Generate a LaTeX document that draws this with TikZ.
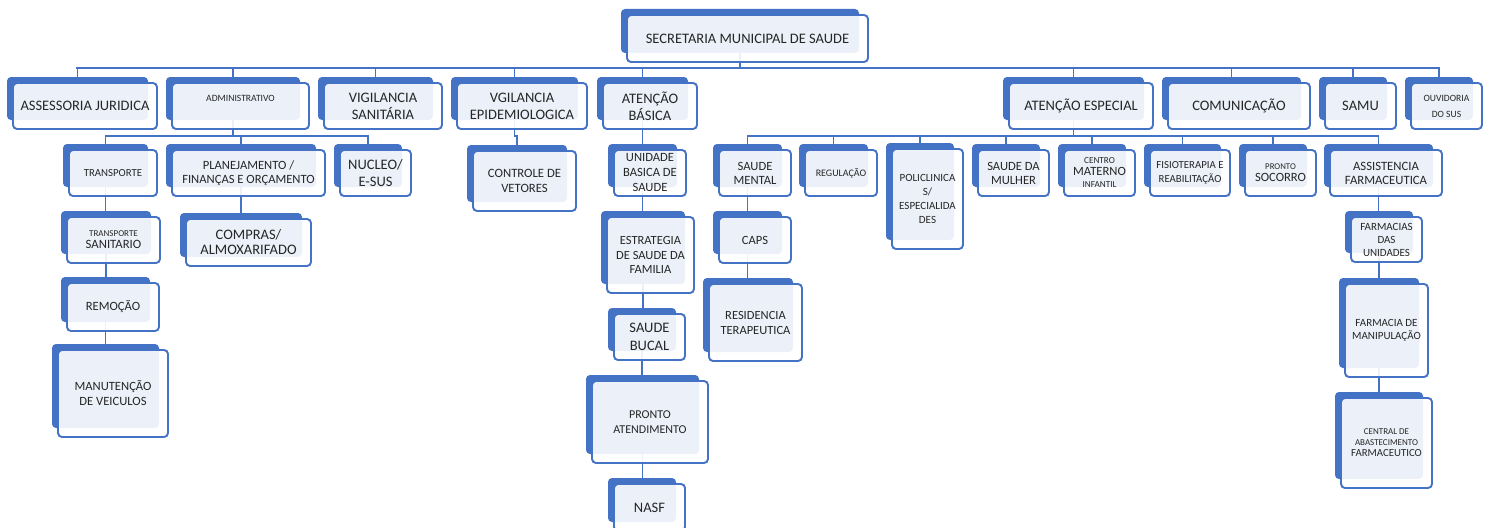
\documentclass[tikz,border=0pt]{standalone}
\usepackage{fontspec}
\setmainfont{Carlito}
\usetikzlibrary{backgrounds}
\definecolor{obl}{HTML}{4472C4}
\definecolor{otx}{HTML}{262626}
\newcommand\fsz[2]{\fontsize{#1}{#2}\selectfont}
\newcommand\fBig{\fsz{14.5}{17}}
\newcommand\fMed{\fsz{12.6}{14.5}}
\newcommand\fSm{\fsz{10.8}{14}}
\newcommand\fTiny{\fsz{9}{11}}
\tikzset{
  backbox/.style={fill=obl, draw=none, rounded corners=4pt, inner sep=0pt, outer sep=0pt},
  frontbox/.style={fill=white, fill opacity=0.9, text opacity=1, draw=obl, line width=1.9pt,
    rounded corners=4pt, inner sep=0pt, outer sep=0pt, align=center, text=otx},
  conn/.style={draw=obl, line width=1.9pt, line cap=rect},
  busline/.style={draw=obl, line width=2.6pt, line cap=rect},
}
\newcommand{\orgbox}[7]{%
  \node[backbox, minimum width={(#4)-(#2)}, minimum height={(#5)-(#3)}] (#1-b)
    at ({((#2)+(#4))/2},{((#3)+(#5))/2}) {};
  \node[frontbox, font={#6}, minimum width={(#4)-(#2)+3}, minimum height={(#5)-(#3)+3}] (#1)
    at ({((#2)+(#4))/2+7.5},{((#3)+(#5))/2+7.5}) {#7};
}
\begin{document}
\begin{tikzpicture}[x=1pt,y=-1pt]
\useasboundingbox (0,0) rectangle (1490,527);
\begin{pgfonlayer}{background}
  \fill[white] (0,0) rectangle (1490,527);
\end{pgfonlayer}
% top
\orgbox{sec}{621}{9}{859}{53}{\fBig}{SECRETARIA MUNICIPAL DE SAUDE}
% level 1
\orgbox{ass}{7}{77}{148}{120}{\fBig}{ASSESSORIA JURIDICA}
\orgbox{adm}{166}{77}{300}{120}{\fsz{9.6}{12}}{ADMINISTRATIVO\\[3pt]}
\orgbox{vsa}{318}{77}{433}{120}{\fBig}{VIGILANCIA\\SANITÁRIA}
\orgbox{vep}{451}{77}{578}{120}{\fBig}{VGILANCIA\\EPIDEMIOLOGICA}
\orgbox{atb}{597}{77}{688}{120}{\fBig}{ATENÇÃO\\BÁSICA}
\orgbox{ate}{1003}{77}{1144}{120}{\fBig}{ATENÇÃO ESPECIAL}
\orgbox{com}{1162}{77}{1301}{120}{\fBig}{COMUNICAÇÃO}
\orgbox{samu}{1319}{77}{1387}{120}{\fBig}{SAMU}
\orgbox{ouv}{1405}{77}{1473}{120}{\fsz{9.6}{16}}{OUVIDORIA\\DO SUS}
% level 2
\orgbox{tra}{63}{144}{148}{187}{\fSm}{TRANSPORTE}
\orgbox{pla}{166}{144}{316}{187}{\fMed}{PLANEJAMENTO /\\FINANÇAS E ORÇAMENTO}
\orgbox{nuc}{334}{144}{402}{187}{\fBig}{NUCLEO/\\E-SUS}
\orgbox{ctl}{467}{145}{567}{202}{\fsz{12.7}{15}}{CONTROLE DE\\VETORES}
\orgbox{ubs}{608}{144}{677}{187}{\fsz{12.6}{15}}{UNIDADE\\BASICA DE\\SAUDE}
\orgbox{sme}{713}{144}{782}{187}{\fsz{12.6}{14}}{SAUDE\\MENTAL}
\orgbox{reg}{799}{144}{868}{187}{\fsz{10}{12}}{REGULAÇÃO}
\orgbox{pol}{886}{143}{954}{240}{\fsz{11}{14}}{POLICLINICA\\S/\\ESPECIALIDA\\DES}
\orgbox{smu}{972}{144}{1040}{187}{\fsz{12.6}{14}}{SAUDE DA\\MULHER}
\orgbox{cmi}{1058}{144}{1126}{187}{\fsz{12.6}{12}}{{\fsz{9.2}{12}CENTRO}\\MATERNO\\{\fsz{9.2}{12}INFANTIL}}
\orgbox{fis}{1144}{144}{1221}{187}{\fSm}{FISIOTERAPIA E\\REABILITAÇÃO}
\orgbox{pso}{1239}{144}{1307}{187}{\fsz{12.6}{12}}{{\fsz{8.8}{12}PRONTO}\\SOCORRO}
\orgbox{asf}{1324}{144}{1433}{187}{\fsz{12.7}{14}}{ASSISTENCIA\\FARMACEUTICA}
% level 3+
\orgbox{tsa}{61}{211}{151}{254}{\fsz{12.7}{12}}{{\fTiny TRANSPORTE}\\SANITARIO}
\orgbox{cpr}{180}{213}{302}{257}{\fsz{14.5}{15}}{COMPRAS/\\ALMOXARIFADO}
\orgbox{rem}{61}{277}{150}{322}{\fMed}{REMOÇÃO}
\orgbox{man}{52}{344}{159}{428}{\fsz{12.6}{15}}{MANUTENÇÃO\\DE VEICULOS}
\orgbox{est}{601}{211}{685}{284}{\fsz{12.5}{14.5}}{ESTRATEGIA\\DE SAUDE DA\\FAMILIA}
\orgbox{sbu}{608}{308}{676}{351}{\fsz{14.5}{18}}{SAUDE\\BUCAL}
\orgbox{pat}{586}{375}{699}{454}{\fsz{12}{15}}{PRONTO\\ATENDIMENTO}
\orgbox{nasf}{608}{478}{676}{522}{\fBig}{NASF}
\orgbox{caps}{713}{211}{782}{254}{\fMed}{CAPS}
\orgbox{res}{703}{278}{793}{352}{\fsz{12.5}{15}}{RESIDENCIA\\TERAPEUTICA}
\orgbox{fdu}{1345}{211}{1413}{253}{\fsz{11}{13}}{FARMACIAS\\DAS\\UNIDADES}
\orgbox{fman}{1339}{278}{1419}{368}{\fsz{11}{13}}{FARMACIA DE\\MANIPULAÇÃO}
\orgbox{cen}{1335}{392}{1423}{479}{\fsz{10.8}{11}}{{\fTiny CENTRAL DE}\\{\fTiny ABASTECIMENTO}\\FARMACEUTICO}
% connectors
\coordinate (bus0) at (0,68);
\coordinate (bus1) at (0,136);
\begin{pgfonlayer}{background}
  \draw[busline] (sec-b.center) -- (sec-b.center |- bus0);
  \draw[busline] (ass-b.center |- bus0) -- (ouv-b.center |- bus0);
  \foreach \n in {ass,adm,vsa,vep,atb,ate,com,samu,ouv}
    \draw[conn] (\n-b.center |- bus0) -- (\n-b.center);
  % administrativo
  \draw[conn] (adm-b.center) -- (adm-b.center |- bus1);
  \draw[conn] (tra-b.center |- bus1) -- (nuc-b.center |- bus1);
  \foreach \n in {tra,pla,nuc}
    \draw[conn] (\n-b.center |- bus1) -- (\n-b.center);
  % vigilancia epidemiologica
  \draw[conn] (vep-b.center) -- (vep-b.center |- bus1) -- (ctl-b.center |- bus1) -- (ctl-b.center);
  % atencao especial
  \draw[conn] (ate-b.center) -- (ate-b.center |- bus1);
  \draw[conn] (sme-b.center |- bus1) -- (asf-b.center |- bus1);
  \foreach \n in {sme,reg,pol,smu,cmi,fis,pso,asf}
    \draw[conn] (\n-b.center |- bus1) -- (\n-b.center);
  % chains
  \foreach \a/\c in {atb/ubs,ubs/est,est/sbu,sbu/pat,pat/nasf,tra/tsa,tsa/rem,rem/man,pla/cpr,sme/caps,caps/res,asf/fdu,fdu/fman,fman/cen}
    \draw[conn] (\a-b.center) -- (\a-b.center |- \c-b.center);
\end{pgfonlayer}
\end{tikzpicture}
\end{document}
